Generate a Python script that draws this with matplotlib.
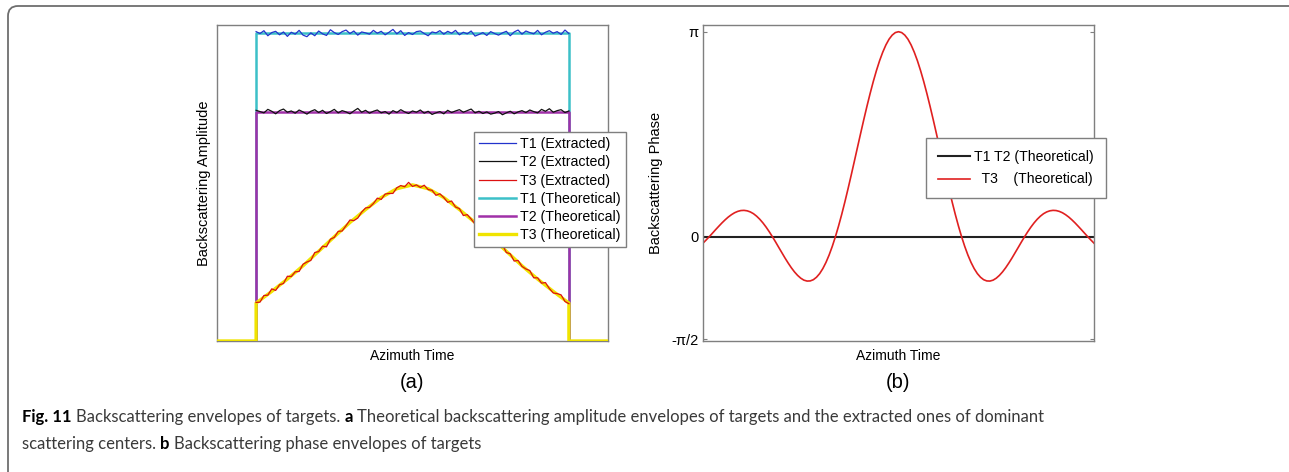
import numpy as np
import matplotlib.pyplot as plt
from matplotlib.patches import FancyBboxPatch

# ---- panel (a): amplitude envelopes ----
extract_time = np.linspace(-1.0, 1.0, 81)

t1_extracted = [0.979, 0.973, 0.982, 0.966, 0.976, 0.980, 0.969, 0.978, 0.964, 0.977,
                0.971, 0.983, 0.968, 0.963, 0.975, 0.966, 0.981, 0.972, 0.967, 0.985,
                0.976, 0.970, 0.979, 0.984, 0.973, 0.981, 0.968, 0.978, 0.975, 0.971,
                0.983, 0.974, 0.980, 0.969, 0.977, 0.986, 0.972, 0.982, 0.967, 0.976,
                0.970, 0.979, 0.981, 0.973, 0.966, 0.978, 0.975, 0.982, 0.971, 0.980,
                0.974, 0.983, 0.969, 0.977, 0.972, 0.981, 0.965, 0.970, 0.976, 0.967,
                0.979, 0.973, 0.968, 0.975, 0.980, 0.966, 0.978, 0.984, 0.971, 0.981,
                0.976, 0.972, 0.983, 0.969, 0.977, 0.982, 0.974, 0.979, 0.970, 0.984,
                0.973]

t2_extracted = [0.730, 0.726, 0.722, 0.733, 0.727, 0.719, 0.729, 0.734, 0.724, 0.728,
                0.721, 0.731, 0.725, 0.718, 0.727, 0.732, 0.723, 0.730, 0.720, 0.726,
                0.733, 0.722, 0.729, 0.725, 0.719, 0.728, 0.736, 0.724, 0.730, 0.721,
                0.727, 0.731, 0.722, 0.726, 0.718, 0.729, 0.723, 0.732, 0.725, 0.720,
                0.728, 0.724, 0.731, 0.721, 0.727, 0.717, 0.722, 0.726, 0.719, 0.730,
                0.723, 0.728, 0.732, 0.724, 0.729, 0.734, 0.722, 0.727, 0.720, 0.725,
                0.718, 0.721, 0.726, 0.716, 0.722, 0.727, 0.719, 0.725, 0.729, 0.723,
                0.731, 0.726, 0.722, 0.733, 0.727, 0.735, 0.724, 0.729, 0.732, 0.723,
                0.728]

t3_extracted = [0.122, 0.123, 0.144, 0.145, 0.165, 0.160, 0.178, 0.182, 0.205, 0.204,
                0.219, 0.220, 0.243, 0.250, 0.255, 0.280, 0.283, 0.300, 0.298, 0.322,
                0.328, 0.347, 0.348, 0.365, 0.383, 0.381, 0.389, 0.408, 0.421, 0.423,
                0.435, 0.452, 0.448, 0.465, 0.467, 0.467, 0.485, 0.492, 0.488, 0.502,
                0.489, 0.494, 0.486, 0.493, 0.479, 0.477, 0.461, 0.466, 0.454, 0.439,
                0.443, 0.424, 0.419, 0.397, 0.400, 0.386, 0.370, 0.370, 0.350, 0.348,
                0.329, 0.313, 0.309, 0.305, 0.280, 0.276, 0.253, 0.255, 0.236, 0.228,
                0.223, 0.200, 0.200, 0.183, 0.185, 0.166, 0.152, 0.150, 0.146, 0.125,
                0.118]

step_time = [-1.25, -1.0, -1.0, 1.0, 1.0, 1.25]
t1_theory = [0.0, 0.0, 0.975, 0.975, 0.0, 0.0]
t2_theory = [0.0, 0.0, 0.725, 0.725, 0.0, 0.0]

t3_time = [-1.25, -1.0, -1.0, -0.9, -0.8, -0.7, -0.6, -0.5, -0.4, -0.3, -0.2, -0.1, 0.0,
           0.1, 0.2, 0.3, 0.4, 0.5, 0.6, 0.7, 0.8, 0.9, 1.0, 1.0, 1.25]
t3_theory = [0.0, 0.0, 0.120, 0.157, 0.196, 0.238, 0.284, 0.330, 0.375, 0.416, 0.454, 0.482, 0.494,
             0.482, 0.454, 0.416, 0.375, 0.330, 0.284, 0.238, 0.196, 0.157, 0.120, 0.0, 0.0]

# ---- panel (b): phase envelopes ----
phase_time = np.linspace(-3.1, 3.1, 125)
t3_phase = [-0.100, -0.051, 0.000, 0.053, 0.107, 0.159, 0.210, 0.257, 0.300, 0.336,
            0.366, 0.387, 0.400, 0.403, 0.396, 0.379, 0.352, 0.314, 0.267, 0.211,
            0.147, 0.076, 0.000, -0.080, -0.163, -0.245, -0.327, -0.404, -0.476, -0.540,
            -0.594, -0.637, -0.667, -0.681, -0.679, -0.660, -0.622, -0.566, -0.490, -0.395,
            -0.281, -0.149, 0.000, 0.165, 0.343, 0.534, 0.735, 0.943, 1.156, 1.371,
            1.585, 1.796, 2.000, 2.195, 2.378, 2.546, 2.697, 2.828, 2.939, 3.027,
            3.090, 3.129, 3.142,
            3.129, 3.090, 3.027, 2.939, 2.828, 2.697, 2.546, 2.378, 2.195, 2.000,
            1.796, 1.585, 1.371, 1.156, 0.943, 0.735, 0.534, 0.343, 0.165, 0.000,
            -0.149, -0.281, -0.395, -0.490, -0.566, -0.622, -0.660, -0.679, -0.681, -0.667,
            -0.637, -0.594, -0.540, -0.476, -0.404, -0.327, -0.245, -0.163, -0.080, 0.000,
            0.076, 0.147, 0.211, 0.267, 0.314, 0.352, 0.379, 0.396, 0.403, 0.400,
            0.387, 0.366, 0.336, 0.300, 0.257, 0.210, 0.159, 0.107, 0.053, 0.000,
            -0.051, -0.100]
t12_phase_time = [-3.1, 3.1]
t12_phase = [0.0, 0.0]

phase_ticks = [-np.pi / 2, 0, np.pi]
phase_ticklabels = ['-π/2', '0', 'π']

caption_line1 = [("Fig. 11", "bold"), ("Backscattering envelopes of targets.", "normal"),
                 ("a", "bold"),
                 ("Theoretical backscattering amplitude envelopes of targets and the extracted ones of dominant", "normal")]
caption_line2 = [("scattering centers.", "normal"), ("b", "bold"),
                 ("Backscattering phase envelopes of targets", "normal")]

W, H = 1289, 472
plt.rcParams['font.family'] = ['Liberation Sans', 'DejaVu Sans']
fig = plt.figure(figsize=(W / 100, H / 100), dpi=100)

spine_col = '#7f7f7f'


def px_axes(left, top, right, bottom):
    return fig.add_axes([left / W, 1 - bottom / H, (right - left) / W, (bottom - top) / H])


# panel (a)
ax1 = px_axes(217, 25, 608, 341)
ax1.plot(extract_time, t1_extracted, color='#2233cc', lw=0.9, zorder=5, label='T1 (Extracted)')
ax1.plot(extract_time, t2_extracted, color='#111111', lw=0.9, zorder=5, label='T2 (Extracted)')
ax1.plot(extract_time, t3_extracted, color='#dd1111', lw=0.9, zorder=5, label='T3 (Extracted)')
ax1.plot(step_time, t1_theory, color='#3cc0c8', lw=1.8, zorder=2, label='T1 (Theoretical)')
ax1.plot(step_time, t2_theory, color='#a030a8', lw=1.8, zorder=3, label='T2 (Theoretical)')
ax1.plot(t3_time, t3_theory, color='#f0e400', lw=2.4, zorder=4, label='T3 (Theoretical)')
ax1.set_xlim(-1.25, 1.25)
ax1.set_ylim(0, 1)
ax1.set_xticks([])
ax1.set_yticks([])
ax1.set_xlabel('Azimuth Time', fontsize=10, labelpad=6)
ax1.set_ylabel('Backscattering Amplitude', fontsize=10.5, labelpad=4)
leg1 = ax1.legend(loc='upper left', bbox_to_anchor=(0.657, 0.661), borderaxespad=0,
                  fontsize=10.2, handlelength=2.6, handletextpad=0.3, labelspacing=0.3,
                  borderpad=0.35, fancybox=False, framealpha=1, edgecolor=spine_col)
leg1.get_frame().set_linewidth(1.0)
leg1.set_zorder(10)

# panel (b)
ax2 = px_axes(703, 25, 1094, 341)
ax2.plot(t12_phase_time, t12_phase, color='#222222', lw=1.5, label='T1 T2 (Theoretical)')
ax2.plot(phase_time, t3_phase, color='#e02020', lw=1.2, label='  T3    (Theoretical)')
ax2.set_xlim(-3.1, 3.1)
ax2.set_ylim(-1.60, 3.245)
ax2.set_xticks([])
ax2.set_yticks(phase_ticks)
ax2.set_yticklabels(phase_ticklabels)
ax2.tick_params(axis='y', direction='in', length=3, left=True, right=True,
                color=spine_col, labelsize=10.5, pad=3)
ax2.set_xlabel('Azimuth Time', fontsize=10, labelpad=6)
ax2.set_ylabel('Backscattering Phase', fontsize=10.5, labelpad=6)
leg2 = ax2.legend(loc='upper left', bbox_to_anchor=(0.570, 0.642), borderaxespad=0,
                  fontsize=10.1, handlelength=2.3, handletextpad=0.3, labelspacing=0.6,
                  borderpad=0.85, fancybox=False, framealpha=1, edgecolor=spine_col)
leg2.get_frame().set_linewidth(1.0)
leg2.set_zorder(10)

for ax in (ax1, ax2):
    for s in ax.spines.values():
        s.set_color(spine_col)
        s.set_linewidth(1.0)

# panel tags
fig.text(412 / W, 1 - 383 / H, '(a)', fontsize=14.5, ha='center', va='center')
fig.text(898 / W, 1 - 383 / H, '(b)', fontsize=14.5, ha='center', va='center')

# outer frame with rounded top-left corner
frame = FancyBboxPatch((0.08, -1.0), 14.0, 4.66 + 1.0,
                       boxstyle='round,pad=0,rounding_size=0.1',
                       transform=fig.dpi_scale_trans, fill=False,
                       edgecolor='#6e6e6e', linewidth=1.3, clip_on=False)
fig.add_artist(frame)

# caption with bold runs
renderer = fig.canvas.get_renderer()
cap_size = 12.0
cap_font = ['Lato', 'DejaVu Sans']


def text_width(s, weight):
    t = fig.text(0, 0, s, fontsize=cap_size, fontweight=weight, family=cap_font)
    w = t.get_window_extent(renderer).width
    t.remove()
    return w


space_w = text_width('x x', 'normal') - text_width('xx', 'normal')


def draw_caption(runs, x0, baseline):
    x = x0
    for txt, weight in runs:
        fig.text(x / W, 1 - baseline / H, txt, fontsize=cap_size, fontweight=weight,
                 family=cap_font, color='#000000' if weight == 'bold' else '#3a3a3a',
                 va='baseline', ha='left')
        x += text_width(txt, weight) + space_w


draw_caption(caption_line1, 22, 422)
draw_caption(caption_line2, 22, 449)

fig.savefig('out.png', dpi=100)
